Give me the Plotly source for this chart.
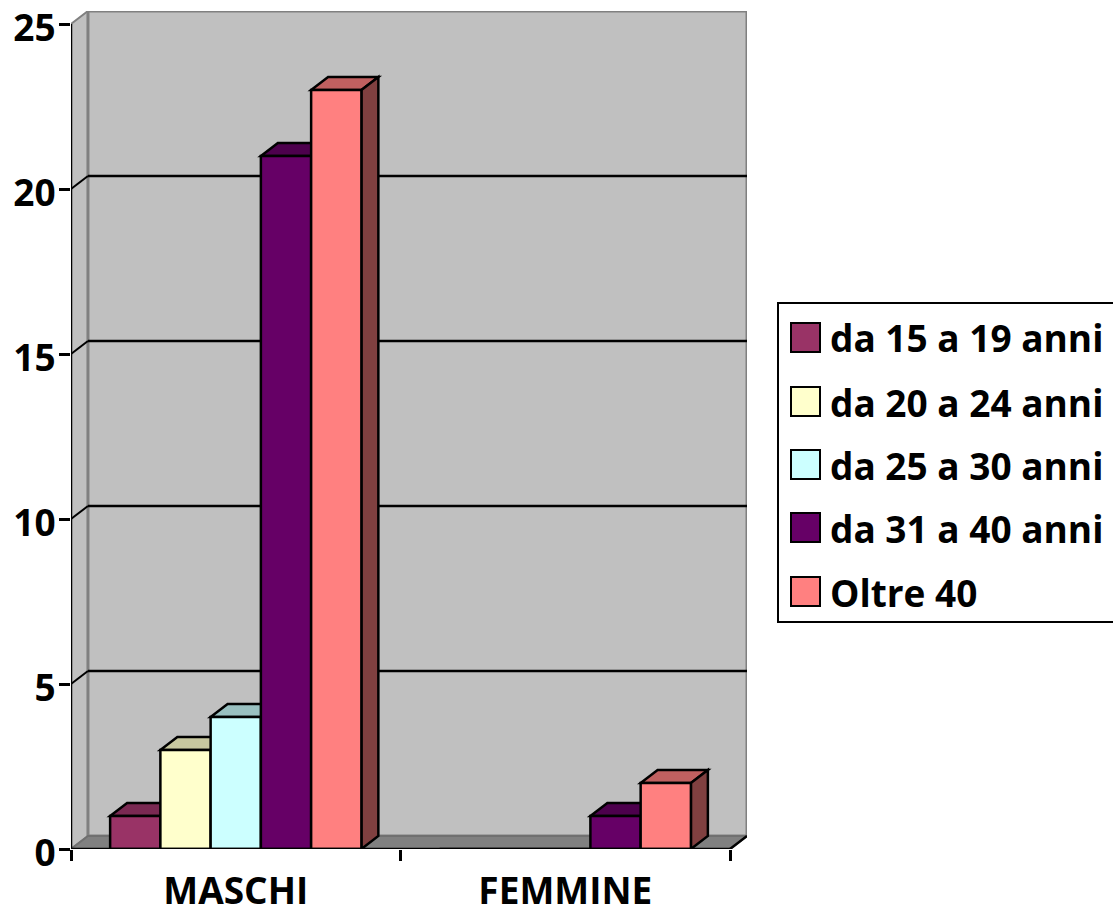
import plotly.graph_objects as go

CATEGORIES = ["MASCHI", "FEMMINE"]
SERIES = ["da 15 a 19 anni", "da 20 a 24 anni", "da 25 a 30 anni", "da 31 a 40 anni", "Oltre 40"]
VAL_15_19 = [1, 0]
VAL_20_24 = [3, 0]
VAL_25_30 = [4, 0]
VAL_31_40 = [21, 1]
VAL_OLTRE_40 = [23, 2]
Y_TICKS = [0, 5, 10, 15, 20, 25]
Y_MAX = 25

VALUES = [VAL_15_19, VAL_20_24, VAL_25_30, VAL_31_40, VAL_OLTRE_40]
FRONT = ["#993366", "#FFFFCC", "#CCFFFF", "#660066", "#FF8080"]
TOP = ["#7A2952", "#C8C8A0", "#99C0C0", "#4D004D", "#C06060"]
SIDE = ["#4D1A33", "#80806A", "#668080", "#330033", "#804040"]

W = 0.1525          # bar width (category units)
DX = 0.0515         # depth, x (category units)
DY = 0.394          # depth, y (value units)
NS = len(SERIES)

FONT = "Open Sans"
FSIZE = 37
LW = 2.5

# figure geometry (page body margin removed, so the figure starts at 0,0)
FIG_W, FIG_H = 1113, 916
ML, MR, MT, MB = 71, 366, 11, 67
PW = FIG_W - ML - MR
PH = FIG_H - MT - MB


def px2paper(px, py):
    # page pixel -> paper coordinates
    return (px - ML) / PW, 1 - (py - MT) / PH


fig = go.Figure()
shapes = []
annotations = []


def poly(pts):
    return "M " + " L ".join(f"{x},{y}" for x, y in pts) + " Z"


x_lo, x_hi = -0.5, len(CATEGORIES) - 0.5
# side wall
shapes.append(dict(type="path", layer="below", xref="x", yref="y",
                   path=poly([(x_lo, 0), (x_lo, Y_MAX), (x_lo + DX, Y_MAX + DY), (x_lo + DX, DY)]),
                   fillcolor="#C0C0C0", line=dict(color="#808080", width=2)))
# back wall
shapes.append(dict(type="rect", layer="below", xref="x", yref="y",
                   x0=x_lo + DX, x1=x_hi + DX, y0=DY, y1=Y_MAX + DY,
                   fillcolor="#C0C0C0", line=dict(color="#808080", width=3)))
# floor
shapes.append(dict(type="path", layer="below", xref="x", yref="y",
                   path=poly([(x_lo, 0), (x_hi, 0), (x_hi + DX, DY), (x_lo + DX, DY)]),
                   fillcolor="#808080", line=dict(color="#707070", width=2)))
shapes.append(dict(type="line", layer="below", xref="x", yref="y",
                   x0=x_hi, y0=0, x1=x_hi + DX, y1=DY, line=dict(color="black", width=2.5)))
# gridlines on back + side wall
for t in Y_TICKS[1:-1]:
    shapes.append(dict(type="line", layer="below", xref="x", yref="y",
                       x0=x_lo + DX, x1=x_hi + DX, y0=t + DY, y1=t + DY,
                       line=dict(color="black", width=2.5)))
    shapes.append(dict(type="line", layer="below", xref="x", yref="y",
                       x0=x_lo, x1=x_lo + DX, y0=t, y1=t + DY,
                       line=dict(color="black", width=2)))
# axis lines
shapes.append(dict(type="line", layer="above", xref="x", yref="y",
                   x0=x_lo, x1=x_hi, y0=0, y1=0, line=dict(color="black", width=2.5)))
shapes.append(dict(type="line", layer="above", xref="x", yref="y",
                   x0=x_lo, x1=x_lo, y0=0, y1=Y_MAX, line=dict(color="black", width=2.5)))

# 3D faces of bars (drawn under the bar fronts, left to right)
for ci in range(len(CATEGORIES)):
    for j in range(NS):
        v = VALUES[j][ci]
        if v <= 0:
            continue
        xl = ci + (j - NS / 2) * W
        xr = xl + W
        shapes.append(dict(type="path", layer="below", xref="x", yref="y",
                           path=poly([(xl, v), (xr, v), (xr + DX, v + DY), (xl + DX, v + DY)]),
                           fillcolor=TOP[j], line=dict(color="black", width=LW)))
        shapes.append(dict(type="path", layer="below", xref="x", yref="y",
                           path=poly([(xr, 0), (xr, v), (xr + DX, v + DY), (xr + DX, DY)]),
                           fillcolor=SIDE[j], line=dict(color="black", width=LW)))

for j in range(NS):
    fig.add_trace(go.Bar(
        x=CATEGORIES, y=VALUES[j], name=SERIES[j],
        width=W, offset=(j - NS / 2) * W,
        marker=dict(color=FRONT[j], line=dict(color="black", width=LW)),
        showlegend=False,
    ))

# legend (box, swatches, labels)
bx0, by0 = px2paper(778, 303)
bx1, by1 = px2paper(1125, 622)
shapes.append(dict(type="rect", layer="above", xref="paper", yref="paper",
                   x0=bx0, y0=by1, x1=bx1, y1=by0, fillcolor="white",
                   line=dict(color="black", width=2)))
ROW_Y = [338, 402, 465, 528, 592]
for j in range(NS):
    sx0, sy0 = px2paper(791, ROW_Y[j] - 15)
    sx1, sy1 = px2paper(820, ROW_Y[j] + 14)
    shapes.append(dict(type="rect", layer="above", xref="paper", yref="paper",
                       x0=sx0, y0=sy1, x1=sx1, y1=sy0, fillcolor=FRONT[j],
                       line=dict(color="black", width=2)))
    tx, ty = px2paper(828, ROW_Y[j])
    annotations.append(dict(xref="paper", yref="paper", x=tx, y=ty, xanchor="left", yanchor="middle",
                            text=SERIES[j], showarrow=False,
                            font=dict(family=FONT, size=FSIZE, color="black", weight="bold")))

fig.update_layout(
    width=FIG_W, height=FIG_H,
    margin=dict(l=ML, r=MR, t=MT, b=MB, pad=0),
    paper_bgcolor="white", plot_bgcolor="white",
    barmode="overlay",
    shapes=shapes,
    annotations=annotations,
    showlegend=False,
    xaxis=dict(range=[x_lo, x_hi + DX], showgrid=False, zeroline=False, showline=False,
               tickson="boundaries", ticks="outside", ticklen=11, tickwidth=2.5, tickcolor="black",
               tickfont=dict(family=FONT, size=FSIZE, color="black", weight="bold"),
               ticklabelstandoff=17, automargin=False),
    yaxis=dict(range=[0, Y_MAX + DY], tickvals=Y_TICKS, showgrid=False, zeroline=False,
               showline=False, ticks="outside", ticklen=11, tickwidth=2.5, tickcolor="black",
               tickfont=dict(family=FONT, size=FSIZE, color="black", weight="bold"),
               ticklabelstandoff=-4, ticklabelshift=4, ticklabeloverflow="allow",
               automargin=False),
)

fig.write_html("out.html", config={"displayModeBar": False},
               post_script="document.body.style.margin='0px';")
